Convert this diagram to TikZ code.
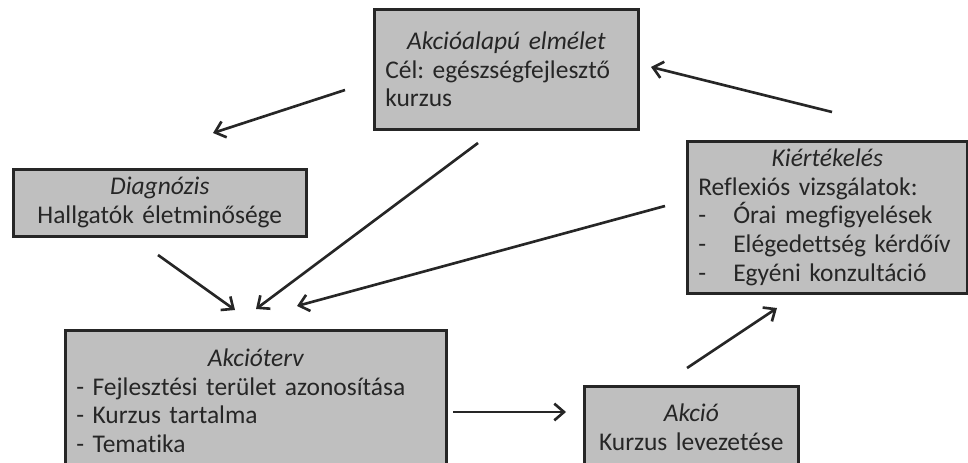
\documentclass[tikz,border=0pt]{standalone}
\usepackage{fontspec}
\setmainfont{Carlito}[Ligatures=NoCommon, WordSpace=0.6]
\usepackage{tikz}
\usetikzlibrary{arrows.meta,positioning}
\definecolor{boxgray}{HTML}{BFBFBF}
\definecolor{ink}{HTML}{262626}
\newcommand{\stagefont}{\fontsize{14.5}{16.4}\selectfont}
\newcommand{\stagehead}[1]{\makebox[\linewidth][c]{\itshape #1}}
\tikzset{
  stagebox/.style={
    rectangle, draw=ink, fill=boxgray, line width=1.5pt,
    text=ink, font=\stagefont, align=left,
    inner xsep=0.22cm, inner ysep=0pt, anchor=north west
  },
  cyclearrow/.style={
    -{Straight Barb[length=5.5pt,width=9.5pt,line width=1.5pt]},
    draw=ink, line width=1.5pt
  },
}
\begin{document}
\begin{tikzpicture}[x=0.02cm, y=-0.02cm]
  \useasboundingbox (0,0) rectangle (968,463);
  \clip (0,0) rectangle (968,463);

  % stages of the cycle
  \node[stagebox, minimum width=5.28cm, minimum height=2.4cm, text width=4.84cm] (theory) at (373,8)
    {\stagehead{Akcióalapú elmélet}\\ Cél:~egészségfejlesztő\\ kurzus};
  \node[stagebox, align=center, minimum width=5.86cm, minimum height=1.34cm, text width=5.42cm] (diag) at (12,168)
    {\textit{Diagnózis}\\ Hallgatók~életminősége};
  \node[stagebox, minimum width=5.6cm, minimum height=3.04cm, text width=5.16cm] (eval) at (686,140)
    {\stagehead{Kiértékelés}\\ Reflexiós~vizsgálatok:\\
     \makebox[0.7cm][l]{-}Órai~megfigyelések\\
     \makebox[0.7cm][l]{-}Elégedettség~kérdőív\\
     \makebox[0.7cm][l]{-}Egyéni~konzultáció};
  \node[stagebox, minimum width=7.62cm, minimum height=2.82cm, text width=7.18cm] (plan) at (64,329)
    {\stagehead{Akcióterv}\\ - Fejlesztési~terület~azonosítása\\ - Kurzus~tartalma\\ - Tematika};
  \node[stagebox, align=center, minimum width=4.28cm, minimum height=1.64cm, text width=3.84cm] (act) at (583,385)
    {\textit{Akció}\\ Kurzus~levezetése};

  % free arrow ends
  \coordinate (theory-out1) at (345,90);  \coordinate (diag-in)   at (213,133);
  \coordinate (eval-out1)   at (832,112); \coordinate (theory-in) at (651,67);
  \coordinate (diag-out)    at (158,255); \coordinate (plan-in1)  at (235,310);
  \coordinate (theory-out2) at (478,143); \coordinate (plan-in2)  at (256,309);
  \coordinate (eval-out2)   at (665,206); \coordinate (plan-in3)  at (297,306);
  \coordinate (plan-out)    at (453,412); \coordinate (act-in)    at (566,412);
  \coordinate (act-out)     at (687,368); \coordinate (eval-in)   at (777,308);

  % arrows
  \draw[cyclearrow] (theory-out1) -- (diag-in);
  \draw[cyclearrow] (eval-out1) -- (theory-in);
  \draw[cyclearrow] (diag-out) -- (plan-in1);
  \draw[cyclearrow] (theory-out2) -- (plan-in2);
  \draw[cyclearrow] (eval-out2) -- (plan-in3);
  \draw[cyclearrow] (plan-out) -- (act-in);
  \draw[cyclearrow] (act-out) -- (eval-in);
\end{tikzpicture}
\end{document}
